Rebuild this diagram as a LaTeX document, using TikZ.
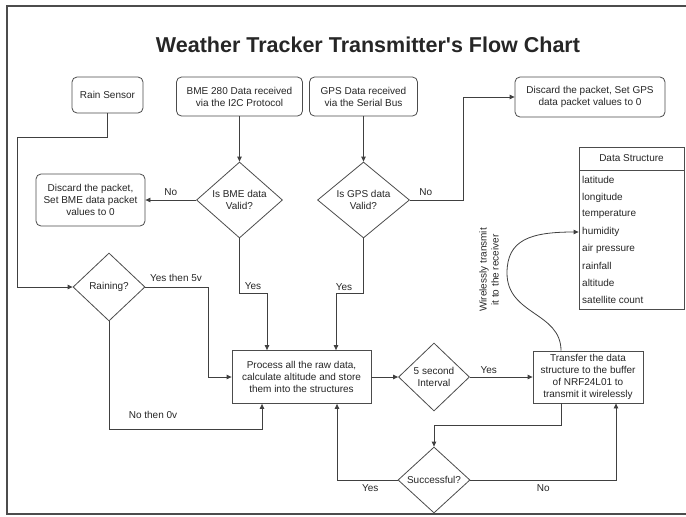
\documentclass[tikz,border=0pt]{standalone}
\usepackage{fontspec}
\setmainfont{Liberation Sans}
\usetikzlibrary{shapes.geometric,arrows.meta,calc}
\begin{document}
\begin{tikzpicture}[x=1pt,y=-1pt,
  font=\fontsize{10}{12}\selectfont,
  every node/.style={text=black!85},
  box/.style={draw=black!70, line width=0.8pt, fill=white, align=center, inner sep=1pt},
  rbox/.style={box, rounded corners=5pt},
  dia/.style={diamond, draw=black!70, line width=0.8pt, fill=white, align=center, inner sep=0pt},
  conn/.style={draw=black!75, line width=0.8pt},
  arr/.style={conn, -{Triangle[length=5pt,width=4.5pt]}},
  lbl/.style={font=\fontsize{10}{12}\selectfont, inner sep=1pt}]
\useasboundingbox (0,0) rectangle (686,517);
% frame
\draw[black!70, line width=2pt] (686,6) -- (7,6) -- (7,514) -- (686,514);
% title
\node[font=\bfseries\fontsize{21.5}{25}\selectfont] (title) at (368,45) {Weather Tracker Transmitter\textquotesingle s Flow Chart};
% top boxes
\node[rbox, minimum width=71, minimum height=36] (rain) at (107.5,95) {Rain Sensor};
\node[rbox, minimum width=126, minimum height=39] (bme) at (239.5,96.5) {BME 280 Data received\\via the I2C Protocol};
\node[rbox, minimum width=108, minimum height=39] (gps) at (363.5,96.5) {GPS Data received\\via the Serial Bus};
\node[rbox, minimum width=150, minimum height=40] (dgps) at (590,97) {Discard the packet, Set GPS\\data packet values to 0};
% decisions
\node[dia, minimum width=86, minimum height=76] (bmed) at (239.5,200) {Is BME data\\Valid?};
\node[dia, minimum width=92, minimum height=76] (gpsd) at (363.5,200) {Is GPS data\\Valid?};
\node[rbox, minimum width=109, minimum height=52] (dbme) at (90.5,200) {Discard the packet,\\Set BME data packet\\values to 0};
\node[dia, minimum width=72, minimum height=68] (rainD) at (109,287) {Raining?};
% process
\node[box, minimum width=139, minimum height=53] (proc) at (301.5,377) {Process all the raw data,\\calculate altitude and store\\them into the structures};
\node[dia, minimum width=71, minimum height=68] (intv) at (434,377) {5 second\\Interval};
\node[box, minimum width=110, minimum height=52] (trans) at (588,377) {Transfer the data\\structure to the buffer\\of NRF24L01 to\\transmit it wirelessly};
\node[dia, minimum width=72, minimum height=66] (succ) at (434,480) {Successful?};
% data structure
\node[draw=black!70, line width=0.8pt, minimum width=105, minimum height=162, inner sep=0pt] (ds) at (631.5,228) {};
\draw[black!70, line width=0.8pt] (579,170) -- (684,170);
\node (dshead) at (631.5,158.5) {Data Structure};
\node[anchor=west, inner sep=1pt] (row1) at (581,180) {latitude};
\node[anchor=west, inner sep=1pt] (row2) at (581,197.5) {longitude};
\node[anchor=west, inner sep=1pt] (row3) at (581,214.5) {temperature};
\node[anchor=west, inner sep=1pt] (row4) at (581,232) {humidity};
\node[anchor=west, inner sep=1pt] (row5) at (581,249) {air pressure};
\node[anchor=west, inner sep=1pt] (row6) at (581,266) {rainfall};
\node[anchor=west, inner sep=1pt] (row7) at (581,283) {altitude};
\node[anchor=west, inner sep=1pt] (row8) at (581,300) {satellite count};
% coordinates
\coordinate (p1) at (17,137);
\coordinate (g1) at (463,200);
\coordinate (b1) at (267,293);
\coordinate (g2) at (336,293);
\coordinate (ry) at (208,287);
\coordinate (rn) at (262,429);
\coordinate (t1) at (561,425);
\coordinate (s1) at (616,480);
\coordinate (s2) at (337,480);
\coordinate (c1) at (507,273);
% connectors
\draw[arr] (rain.south) |- (p1) |- (rainD.west);
\draw[arr] (bme.south) -- (bmed.north);
\draw[arr] (gps.south) -- (gpsd.north);
\draw[arr] (bmed.west) -- node[lbl, above=3pt] {No} (dbme.east);
\draw[arr] (gpsd.east) -- node[lbl, above=3pt, pos=0.3] {No} (g1) |- (dgps.west);
\draw[arr] (bmed.south) |- (b1) -- (b1 |- proc.north);
\node[lbl] at (253,286) {Yes};
\draw[arr] (gpsd.south) |- (g2) -- (g2 |- proc.north);
\node[lbl] at (344,287) {Yes};
\draw[arr] (rainD.east) -- (ry) |- (proc.west);
\node[lbl] at (176,278) {Yes then 5v};
\draw[arr] (rainD.south) |- (rn) -- (rn |- proc.south);
\node[lbl] at (153,415) {No then 0v};
\draw[arr] (proc.east) -- (intv.west);
\draw[arr] (intv.east) -- node[lbl, above=2pt, pos=0.3] {Yes} (trans.west);
\draw[arr] (t1 |- trans.south) -- (t1) -| (succ.north);
\draw[arr] (succ.east) -- node[lbl, below=3pt, pos=0.5] {No} (s1) -- (s1 |- trans.south);
\draw[arr] (succ.west) -- node[lbl, below=3pt, pos=0.45] {Yes} (s2) -- (s2 |- proc.south);
\draw[arr] (t1 |- trans.north) .. controls (561,312) and (507,315) .. (c1) .. controls (507,240) and (530,232) .. (ds.west |- row4);
\node[lbl, rotate=90, align=center] (wl) at (489,270) {Wirelessly transmit\\it to the receiver};
\end{tikzpicture}
\end{document}
